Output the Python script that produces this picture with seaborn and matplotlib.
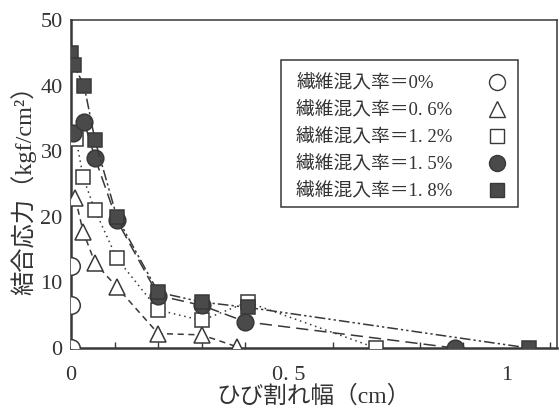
import matplotlib
matplotlib.use("Agg")
import matplotlib.pyplot as plt
from matplotlib.ticker import MultipleLocator, FixedLocator
from matplotlib.lines import Line2D
from matplotlib.patches import Rectangle
import seaborn as sns

# crack width (cm) and bond stress (kgf/cm2) for each fibre content
x_00 = [0.0, 0.0, 0.0]
y_00 = [12.5, 6.5, 0.0]

x_06 = [0.01, 0.028, 0.055, 0.105, 0.2, 0.3, 0.38]
y_06 = [22.8, 17.7, 13.0, 9.3, 2.2, 2.0, 0.2]

x_12 = [0.012, 0.028, 0.055, 0.105, 0.2, 0.3, 0.405, 0.70]
y_12 = [31.8, 26.0, 21.0, 13.7, 5.8, 4.2, 7.0, 0.0]

x_15 = [0.005, 0.03, 0.055, 0.105, 0.2, 0.3, 0.4, 0.88]
y_15 = [32.7, 34.5, 29.0, 19.5, 8.0, 6.5, 4.0, 0.0]

x_18 = [0.0, 0.006, 0.03, 0.055, 0.105, 0.2, 0.3, 0.405, 1.05]
y_18 = [45.0, 43.2, 40.0, 31.7, 20.0, 8.5, 7.0, 6.2, 0.0]

labels = ["繊維混入率＝0%", "繊維混入率＝0. 6%", "繊維混入率＝1. 2%",
          "繊維混入率＝1. 5%", "繊維混入率＝1. 8%"]
x_ticks = [0, 0.5, 1]
x_tick_labels = ["0", "0. 5", "1"]
y_ticks = [0, 10, 20, 30, 40, 50]

sns.set_theme(style="white")
fam = ["Liberation Serif", "Noto Sans CJK JP"]
plt.rcParams["font.family"] = fam

W, H = 559, 409
fig = plt.figure(figsize=(W / 100, H / 100), dpi=100)
ax = fig.add_axes([71 / W, 1 - 348 / H, (557 - 71) / W, (348 - 20) / H])

ink = "#383838"
fill = "#4a4a4a"
txt = "#333333"

# plain concrete: markers only
sns.scatterplot(x=x_00, y=y_00, ax=ax, marker="o", s=160,
                facecolor="white", edgecolor=ink, linewidth=1.1, zorder=5)

series = [
    (x_06, y_06, "^", "white", (0, (4, 3)), 12),
    (x_12, y_12, "s", "white", (0, (1, 2.5)), 10),
    (x_15, y_15, "o", fill, (0, (8, 4)), 12),
    (x_18, y_18, "s", fill, (0, (7, 2, 1.5, 2, 1.5, 2)), 10.5),
]
for xs, ys, mk, fc, ls, ms in series:
    sns.lineplot(x=xs, y=ys, ax=ax, sort=False, estimator=None,
                 color=ink, linewidth=1.1, linestyle=ls,
                 marker=mk, markersize=ms, markerfacecolor=fc,
                 markeredgecolor=ink, markeredgewidth=1.1, zorder=4)

ax.set_xlim(0, 1.115)
ax.set_ylim(0, 50)
ax.xaxis.set_major_locator(FixedLocator(x_ticks))
ax.set_xticklabels(x_tick_labels)
ax.xaxis.set_minor_locator(MultipleLocator(0.1))
ax.yaxis.set_major_locator(FixedLocator(y_ticks))
ax.tick_params(axis="both", which="major", direction="in", length=7,
               width=1.0, color=ink, labelsize=16, labelcolor=txt)
ax.tick_params(axis="x", which="major", pad=13)
ax.tick_params(axis="y", which="major", pad=6)
ax.tick_params(axis="x", which="minor", direction="in", length=4.5,
               width=1.0, color=ink, bottom=True)
for side in ["left", "bottom"]:
    ax.spines[side].set_linewidth(1.8)
    ax.spines[side].set_color(ink)
for side in ["top", "right"]:
    ax.spines[side].set_linewidth(1.1)
    ax.spines[side].set_color(ink)

ax.set_xlabel("ひび割れ幅（cm）", fontsize=17, color=txt, labelpad=0)
ax.set_ylabel("結合応力（kgf/cm²）", fontsize=17.5, color=txt, labelpad=3)

# legend box: labels on the left, symbols in a column on the right
fx = lambda px: px / W
fy = lambda py: 1 - py / H
fig.add_artist(Rectangle((fx(281), fy(207)), fx(518) - fx(281), fy(60) - fy(207),
                         transform=fig.transFigure, facecolor="white",
                         edgecolor=ink, linewidth=1.1, zorder=10))
styles = [("o", "white", 11.5), ("^", "white", 11.5), ("s", "white", 10),
          ("o", fill, 11.5), ("s", fill, 10)]
rows = [82, 109, 136, 163, 190]
for lab, (mk, fc, ms), ry in zip(labels, styles, rows):
    fig.text(fx(296), fy(ry), lab, fontsize=13.5, color=txt,
             ha="left", va="center", zorder=11)
    fig.add_artist(Line2D([fx(497)], [fy(ry)], transform=fig.transFigure,
                          linestyle="none", marker=mk, markersize=ms,
                          markerfacecolor=fc, markeredgecolor=ink,
                          markeredgewidth=1.0, zorder=11))

fig.savefig("out.png", dpi=100)
